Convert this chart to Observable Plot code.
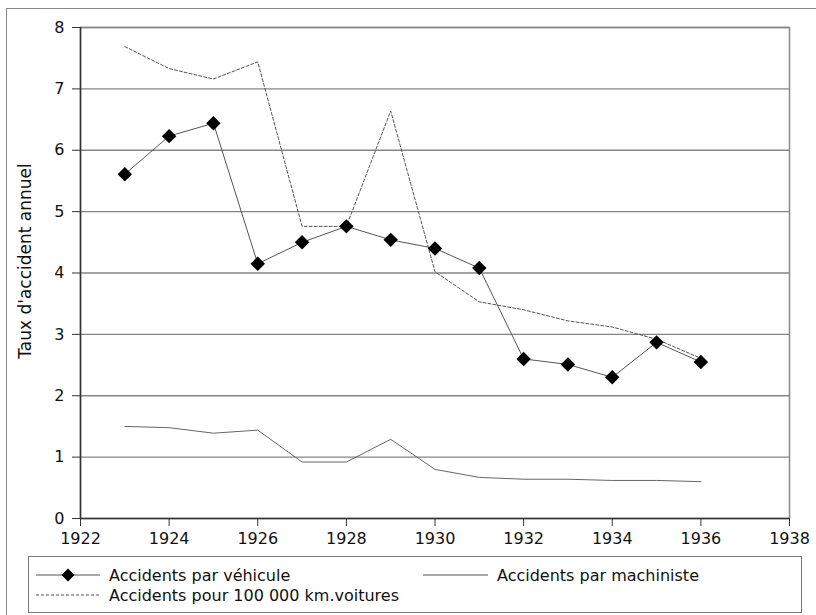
<!DOCTYPE html>
<html>
<head>
<meta charset="utf-8">
<script src="https://cdn.jsdelivr.net/npm/d3@7"></script>
<script src="https://cdn.jsdelivr.net/npm/@observablehq/plot@0.6"></script>
<style>
  html, body { margin: 0; padding: 0; background: #fff; }
  body { width: 816px; height: 615px; position: relative; overflow: hidden; font-family: "DejaVu Sans", sans-serif; }
  #frame { position: absolute; left: 6px; top: 8px; width: 900px; height: 900px; border-left: 1px solid #888; border-top: 1px solid #888; }
  #chart { position: absolute; left: 0; top: 0; }
  #legend { position: absolute; left: 0; top: 550px; }
</style>
</head>
<body>
<div id="frame"></div>
<div id="chart"></div>
<div id="legend"></div>
<script>
const years = [1923, 1924, 1925, 1926, 1927, 1928, 1929, 1930, 1931, 1932, 1933, 1934, 1935, 1936];
const parVehicule = [5.61, 6.23, 6.44, 4.15, 4.50, 4.76, 4.54, 4.40, 4.08, 2.60, 2.51, 2.30, 2.87, 2.55];
const pour100000km = [7.69, 7.33, 7.16, 7.44, 4.76, 4.76, 6.64, 4.02, 3.53, 3.40, 3.22, 3.12, 2.92, 2.61];
const parMachiniste = [1.50, 1.48, 1.39, 1.44, 0.92, 0.92, 1.29, 0.80, 0.67, 0.64, 0.64, 0.62, 0.62, 0.60];
const yTicks = [0, 1, 2, 3, 4, 5, 6, 7, 8];
const xTicks = [1922, 1924, 1926, 1928, 1930, 1932, 1934, 1936, 1938];
const seriesNames = ["Accidents par véhicule", "Accidents par machiniste", "Accidents pour 100 000 km.voitures"];
const yLabel = "Taux d'accident annuel";

const vehicule = years.map((y, i) => ({year: y, value: parVehicule[i]}));
const km = years.map((y, i) => ({year: y, value: pour100000km[i]}));
const machiniste = years.map((y, i) => ({year: y, value: parMachiniste[i]}));

const chart = Plot.plot({
  width: 816,
  height: 550,
  marginLeft: 80,
  marginRight: 27,
  marginTop: 27,
  marginBottom: 32,
  style: {fontFamily: "DejaVu Sans, sans-serif", fontSize: "16px", color: "#111", background: "transparent"},
  x: {domain: [1922, 1938]},
  y: {domain: [0, 8]},
  marks: [
    Plot.ruleY(yTicks.filter(d => d > 0), {stroke: "#858585", strokeWidth: 1.3}),
    Plot.frame({stroke: "#888", strokeWidth: 1.5}),
    Plot.line(km, {x: "year", y: "value", stroke: "#555", strokeWidth: 1, strokeDasharray: "3,2"}),
    Plot.line(machiniste, {x: "year", y: "value", stroke: "#666", strokeWidth: 1}),
    Plot.line(vehicule, {x: "year", y: "value", stroke: "#555", strokeWidth: 1}),
    Plot.dot(vehicule, {x: "year", y: "value", symbol: "diamond2", r: 6.5, fill: "#000", stroke: "none"}),
    Plot.axisX({ticks: xTicks, tickFormat: "d", tickSize: 8, tickPadding: 6, stroke: "#333", label: null, fontSize: 16}),
    Plot.axisY({ticks: yTicks, tickSize: 8, tickPadding: 8, stroke: "#333", label: yLabel, labelAnchor: "center", labelArrow: "none", labelOffset: 62, fontSize: 16}),
    Plot.ruleX([1922], {stroke: "#333", strokeWidth: 1.5}),
    Plot.ruleY([0], {stroke: "#333", strokeWidth: 1.5})
  ]
});
document.getElementById("chart").appendChild(chart);
// y-axis label size and vertical centring as in the reference
chart.querySelectorAll("g[aria-label='y-axis label'] text").forEach(t => {
  t.setAttribute("font-size", "17");
  const tr = t.getAttribute("transform") || "";
  const m = tr.match(/translate\(([-\d.]+),\s*([-\d.]+)\)/);
  if (m) t.setAttribute("transform", tr.replace(m[0], `translate(${m[1]},${(+m[2] - 12).toFixed(1)})`));
});

// Legend
const svgNS = "http://www.w3.org/2000/svg";
const lg = document.createElementNS(svgNS, "svg");
lg.setAttribute("width", 816);
lg.setAttribute("height", 65);
lg.style.fontFamily = "DejaVu Sans, sans-serif";
const off = 550;
function el(name, attrs) {
  const e = document.createElementNS(svgNS, name);
  for (const k in attrs) e.setAttribute(k, attrs[k]);
  lg.appendChild(e);
  return e;
}
el("rect", {x: 28.5, y: 556.5 - off, width: 773, height: 56, fill: "#fff", stroke: "#777", "stroke-width": 1});
const items = [
  {x0: 36, x1: 100, tx: 109, y: 575, dash: null, diamond: true, name: seriesNames[0]},
  {x0: 423, x1: 488, tx: 497, y: 575, dash: null, diamond: false, name: seriesNames[1]},
  {x0: 36, x1: 100, tx: 109, y: 595, dash: "3,2", diamond: false, name: seriesNames[2]}
];
for (const it of items) {
  const l = el("line", {x1: it.x0, x2: it.x1, y1: it.y - off, y2: it.y - off, stroke: "#555", "stroke-width": 1});
  if (it.dash) l.setAttribute("stroke-dasharray", it.dash);
  if (it.diamond) {
    const cx = (it.x0 + it.x1) / 2, cy = it.y - off, h = 6.5;
    el("path", {d: `M${cx},${cy - h}L${cx + h},${cy}L${cx},${cy + h}L${cx - h},${cy}Z`, fill: "#000"});
  }
  const t = el("text", {x: it.tx, y: it.y - off, "font-size": 16, fill: "#111", dy: "0.35em"});
  t.textContent = it.name;
}
document.getElementById("legend").appendChild(lg);
</script>
</body>
</html>
